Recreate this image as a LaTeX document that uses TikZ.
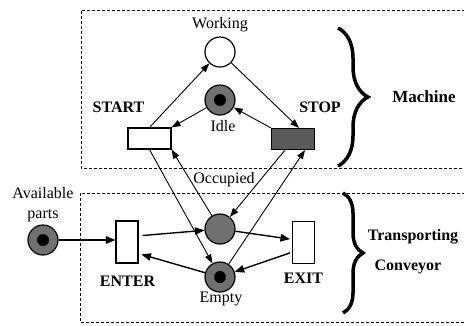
\documentclass[tikz,border=0pt]{standalone}
\usepackage{fontspec}
\setmainfont{Liberation Serif}
\usetikzlibrary{arrows.meta,decorations.pathreplacing,calc}
\definecolor{placegray}{RGB}{112,112,112}
\definecolor{stopgray}{RGB}{90,90,90}
\begin{document}
\begin{tikzpicture}[x=1pt,y=-1pt,
  lbl/.style={font=\fontsize{16}{18}\selectfont,inner sep=0pt},
  blbl/.style={lbl,font=\fontsize{16}{18}\selectfont\bfseries},
  place/.style={circle,draw=black,line width=1.2pt,minimum size=30pt,inner sep=0pt},
  marked/.style={place,fill=placegray,
    path picture={\fill[black] (path picture bounding box.center) circle (6pt);}},
  htrans/.style={rectangle,draw=black,line width=1.1pt,fill=white,
    minimum width=43pt,minimum height=21pt,inner sep=0pt},
  vtrans/.style={rectangle,draw=black,line width=1.1pt,fill=white,
    minimum width=22pt,minimum height=42pt,inner sep=0pt},
  arc/.style={-{Triangle[length=9pt,width=6.5pt]},line width=0.9pt},
  arcb/.style={-{Triangle[length=9.5pt,width=7.5pt]},line width=1.4pt},
  region/.style={dash pattern=on 3pt off 2pt,line width=1pt},
  bigbrace/.style={decorate,line width=3.5pt}
]
\useasboundingbox (0,0) rectangle (464,325);

% dashed sub-system frames (open to the right)
\draw[region] (470,10) -- (81,10) -- (81,168) -- (470,168);
\draw[region] (470,193) -- (80,193) -- (80,322) -- (470,322);

% places
\node[place,fill=white] (work) at (220,52) {};
\node[marked] (idle) at (220,100) {};
\node[place,fill=placegray] (occ) at (220,229) {};
\node[marked] (empty) at (220,277) {};
\node[marked] (avail) at (43,240) {};

% transitions
\node[htrans] (start) at (149.5,138.5) {};
\node[htrans,fill=stopgray] (stop) at (293,139) {};
\node[vtrans] (enter) at (127,242) {};
\node[vtrans] (exit) at (303.5,242.5) {};

% labels
\node[lbl] (workl) at (220,25) {Working};
\node[lbl] (idlel) at (223,126) {Idle};
\node[lbl] (occl) at (224,180) {Occupied};
\node[lbl] (emptyl) at (221,299) {Empty};
\node[lbl] (availl) at (43,193) {Available};
\node[lbl] (partsl) at (43,216) {parts};
\node[blbl] (startl) at (118.5,107) {START};
\node[blbl] (stopl) at (320,107) {STOP};
\node[blbl] (enterl) at (127.5,281) {ENTER};
\node[blbl] (exitl) at (303.5,278) {EXIT};
\node[blbl,font=\fontsize{17}{19}\selectfont\bfseries] (machl) at (424,97) {Machine};
\node[blbl] (transl) at (413,237) {Transporting};
\node[blbl] (convl) at (408,267) {Conveyor};

% braces
\draw[bigbrace,decoration={brace,amplitude=30pt}] (338,28) -- (338,166);
\draw[bigbrace,decoration={brace,amplitude=20pt}] (343,193) -- (343,313);

% machine arcs
\draw[arc] (start.north) -- (work);
\draw[arc] (work) -- ([xshift=6pt]stop.north);
\draw[arc] (idle) -- (start.north east);
\draw[arc] (stop.north west) -- (idle);
\draw[arc] (start.south) -- (empty);
\draw[arc] (occ) -- (start.south east);
\draw[arc] ([xshift=-8pt]stop.south) -- (occ);
\draw[arc] (empty) -- ([xshift=12pt]stop.south);

% conveyor arcs
\draw[arcb] (avail) -- (avail -| enter.west);
\draw[arcb,shorten <=4pt] (enter.28) -- (occ);
\draw[arcb,shorten >=3pt] (empty) -- (enter.-45);
\draw[arcb,shorten >=2pt] (occ) -- (exit.165);
\draw[arcb,shorten <=2pt] (exit.220) -- (empty);
\end{tikzpicture}
\end{document}
